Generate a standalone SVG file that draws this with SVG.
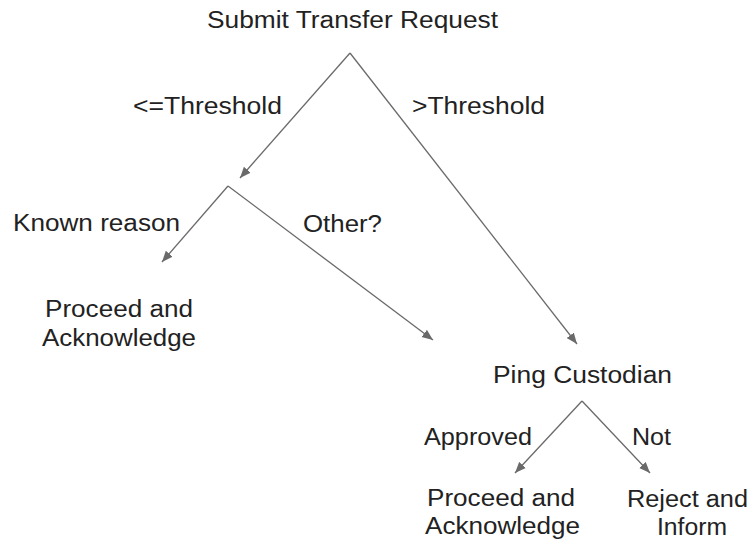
<svg xmlns="http://www.w3.org/2000/svg" width="754" height="542" viewBox="0 0 754 542">
<defs>
<style>
text{font-family:"Liberation Sans",Arial,sans-serif;font-size:23px;fill:#222}
.c line{stroke:#6a6a6a;stroke-width:1.3;fill:none;marker-end:url(#ah)}
</style>
<marker id="ah" markerUnits="userSpaceOnUse" markerWidth="12" markerHeight="10" refX="11" refY="5" orient="auto">
<path d="M0,0.5 L11,5 L0,9.5 Z" fill="#6a6a6a"/>
</marker>
</defs>
<rect width="754" height="542" fill="#fff"/>
<g id="connectors" class="c">
<line x1="350" y1="53" x2="240" y2="178"/>
<line x1="350" y1="53" x2="577" y2="344"/>
<line x1="228" y1="186" x2="162" y2="262"/>
<line x1="228" y1="186" x2="433" y2="340"/>
<line x1="582" y1="401" x2="515" y2="473"/>
<line x1="582" y1="401" x2="650" y2="473"/>
</g>
<g id="labels">
<text x="133" y="114" textLength="149" lengthAdjust="spacingAndGlyphs">&lt;=Threshold</text>
<text x="412" y="114" textLength="133" lengthAdjust="spacingAndGlyphs">&gt;Threshold</text>
<text x="13" y="231" textLength="167" lengthAdjust="spacingAndGlyphs">Known reason</text>
<text x="303" y="232" textLength="79" lengthAdjust="spacingAndGlyphs">Other?</text>
<text x="424" y="445" textLength="108" lengthAdjust="spacingAndGlyphs">Approved</text>
<text x="632" y="445" textLength="39" lengthAdjust="spacingAndGlyphs">Not</text>
</g>
<g id="submit"><text x="207" y="28" textLength="291" lengthAdjust="spacingAndGlyphs">Submit Transfer Request</text></g>
<g id="proceed1">
<text x="45" y="317" textLength="148" lengthAdjust="spacingAndGlyphs">Proceed and</text>
<text x="42" y="346" textLength="154" lengthAdjust="spacingAndGlyphs">Acknowledge</text>
</g>
<g id="ping"><text x="493" y="383" textLength="179" lengthAdjust="spacingAndGlyphs">Ping Custodian</text></g>
<g id="proceed2">
<text x="427" y="506" textLength="148" lengthAdjust="spacingAndGlyphs">Proceed and</text>
<text x="425" y="534" textLength="155" lengthAdjust="spacingAndGlyphs">Acknowledge</text>
</g>
<g id="reject">
<text x="627" y="507" textLength="121" lengthAdjust="spacingAndGlyphs">Reject and</text>
<text x="657" y="535" textLength="70" lengthAdjust="spacingAndGlyphs">Inform</text>
</g>
</svg>
